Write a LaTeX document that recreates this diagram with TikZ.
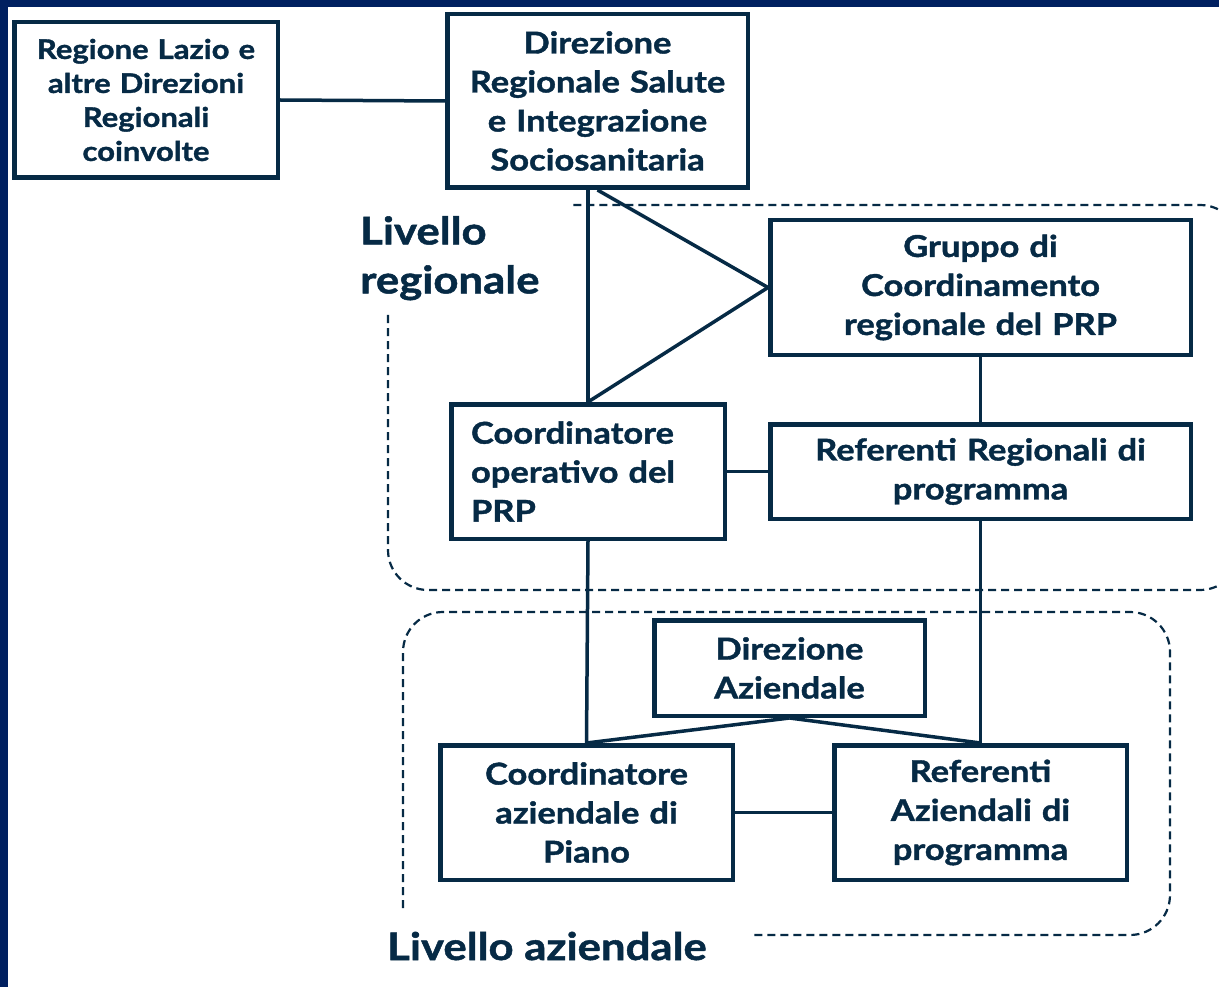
\documentclass[tikz,border=0pt]{standalone}
\usepackage{fontspec}
\setmainfont{Lato}[BoldFeatures={FakeStretch=1.15, FakeBold=1.3}]
\usetikzlibrary{positioning}

\definecolor{navy}{HTML}{062A45}
\definecolor{frameblue}{HTML}{002060}

\begin{document}
\begin{tikzpicture}[x=1pt, y=-1pt,
    box/.style={draw=navy, line width=4.5pt, text=navy, inner sep=0pt, align=center,
        font=\bfseries\fontsize{30}{39}\selectfont},
    link/.style={draw=navy, line width=3.5pt},
    area/.style={draw=navy, line width=2.2pt, dash pattern=on 8pt off 5pt, rounded corners=40pt},
    level/.style={text=navy, inner sep=0pt, align=left, font=\bfseries\fontsize{38}{49}\selectfont}]

    \useasboundingbox[fill=white] (0,0) rectangle (1219,987);
    \fill[frameblue] (0,0) rectangle (1219,7);
    \fill[frameblue] (0,0) rectangle (8,987);

    % livelli
    \draw[area] (388,315) -- (388,590) -- (1240,590) -- (1240,205) -- (573,205);
    \draw[area] (403,908) -- (403,612) -- (1170,612) -- (1170,935) -- (750,935);
    \node[level, anchor=north west] (lvreg) at (360,216) {Livello\\regionale};
    \node[level, anchor=base west] (lvaz) at (387,960) {Livello aziendale};

    \node[box, minimum width=263.5, minimum height=155.5, text width=250,
        font=\bfseries\fontsize{27}{34}\selectfont] (reg) at (146,100)
        {Regione Lazio e\\altre Direzioni\\Regionali\\coinvolte};
    \node[box, minimum width=300.5, minimum height=173.5, text width=290] (dir) at (597.5,101)
        {Direzione\\Regionale Salute\\e Integrazione\\Sociosanitaria};
    \node[box, minimum width=420.5, minimum height=134.5, text width=400] (gruppo) at (980.5,287.5)
        {Gruppo di\\Coordinamento\\regionale del PRP};
    \node[box, minimum width=273.5, minimum height=134.5, text width=234, align=left] (coordop) at (588,471.5)
        {Coordinatore\\operativo del\\PRP};
    \node[box, minimum width=420.5, minimum height=94.5, text width=400] (refreg) at (980.5,471.5)
        {Referenti Regionali di\\programma};
    \node[box, minimum width=270.5, minimum height=95.5, text width=250] (diraz) at (789.5,668)
        {Direzione\\Aziendale};
    \node[box, minimum width=292.5, minimum height=134.5, text width=270] (coordaz) at (586.5,812.5)
        {Coordinatore\\aziendale di\\Piano};
    \node[box, minimum width=292.5, minimum height=134.5, text width=270] (refaz) at (980.5,812.5)
        {Referenti\\Aziendali di\\programma};

    \draw[link] (reg.east) -- (dir.west);
    \draw[link] (coordop.north |- dir.south) -- (coordop.north);
    \draw[link] (dir.south) -- (gruppo.west);
    \draw[link] (gruppo.west) -- (coordop.north);
    \draw[link] (gruppo.south) -- (refreg.north);
    \draw[link] (coordop.east) -- (refreg.west);
    \draw[link] (coordop.south) -- (coordaz.north);
    \draw[link] (refreg.south) -- (refaz.north);
    \draw[link] (diraz.south) -- (coordaz.north);
    \draw[link] (diraz.south) -- (refaz.north);
    \draw[link] (coordaz.east) -- (refaz.west);

\end{tikzpicture}
\end{document}
